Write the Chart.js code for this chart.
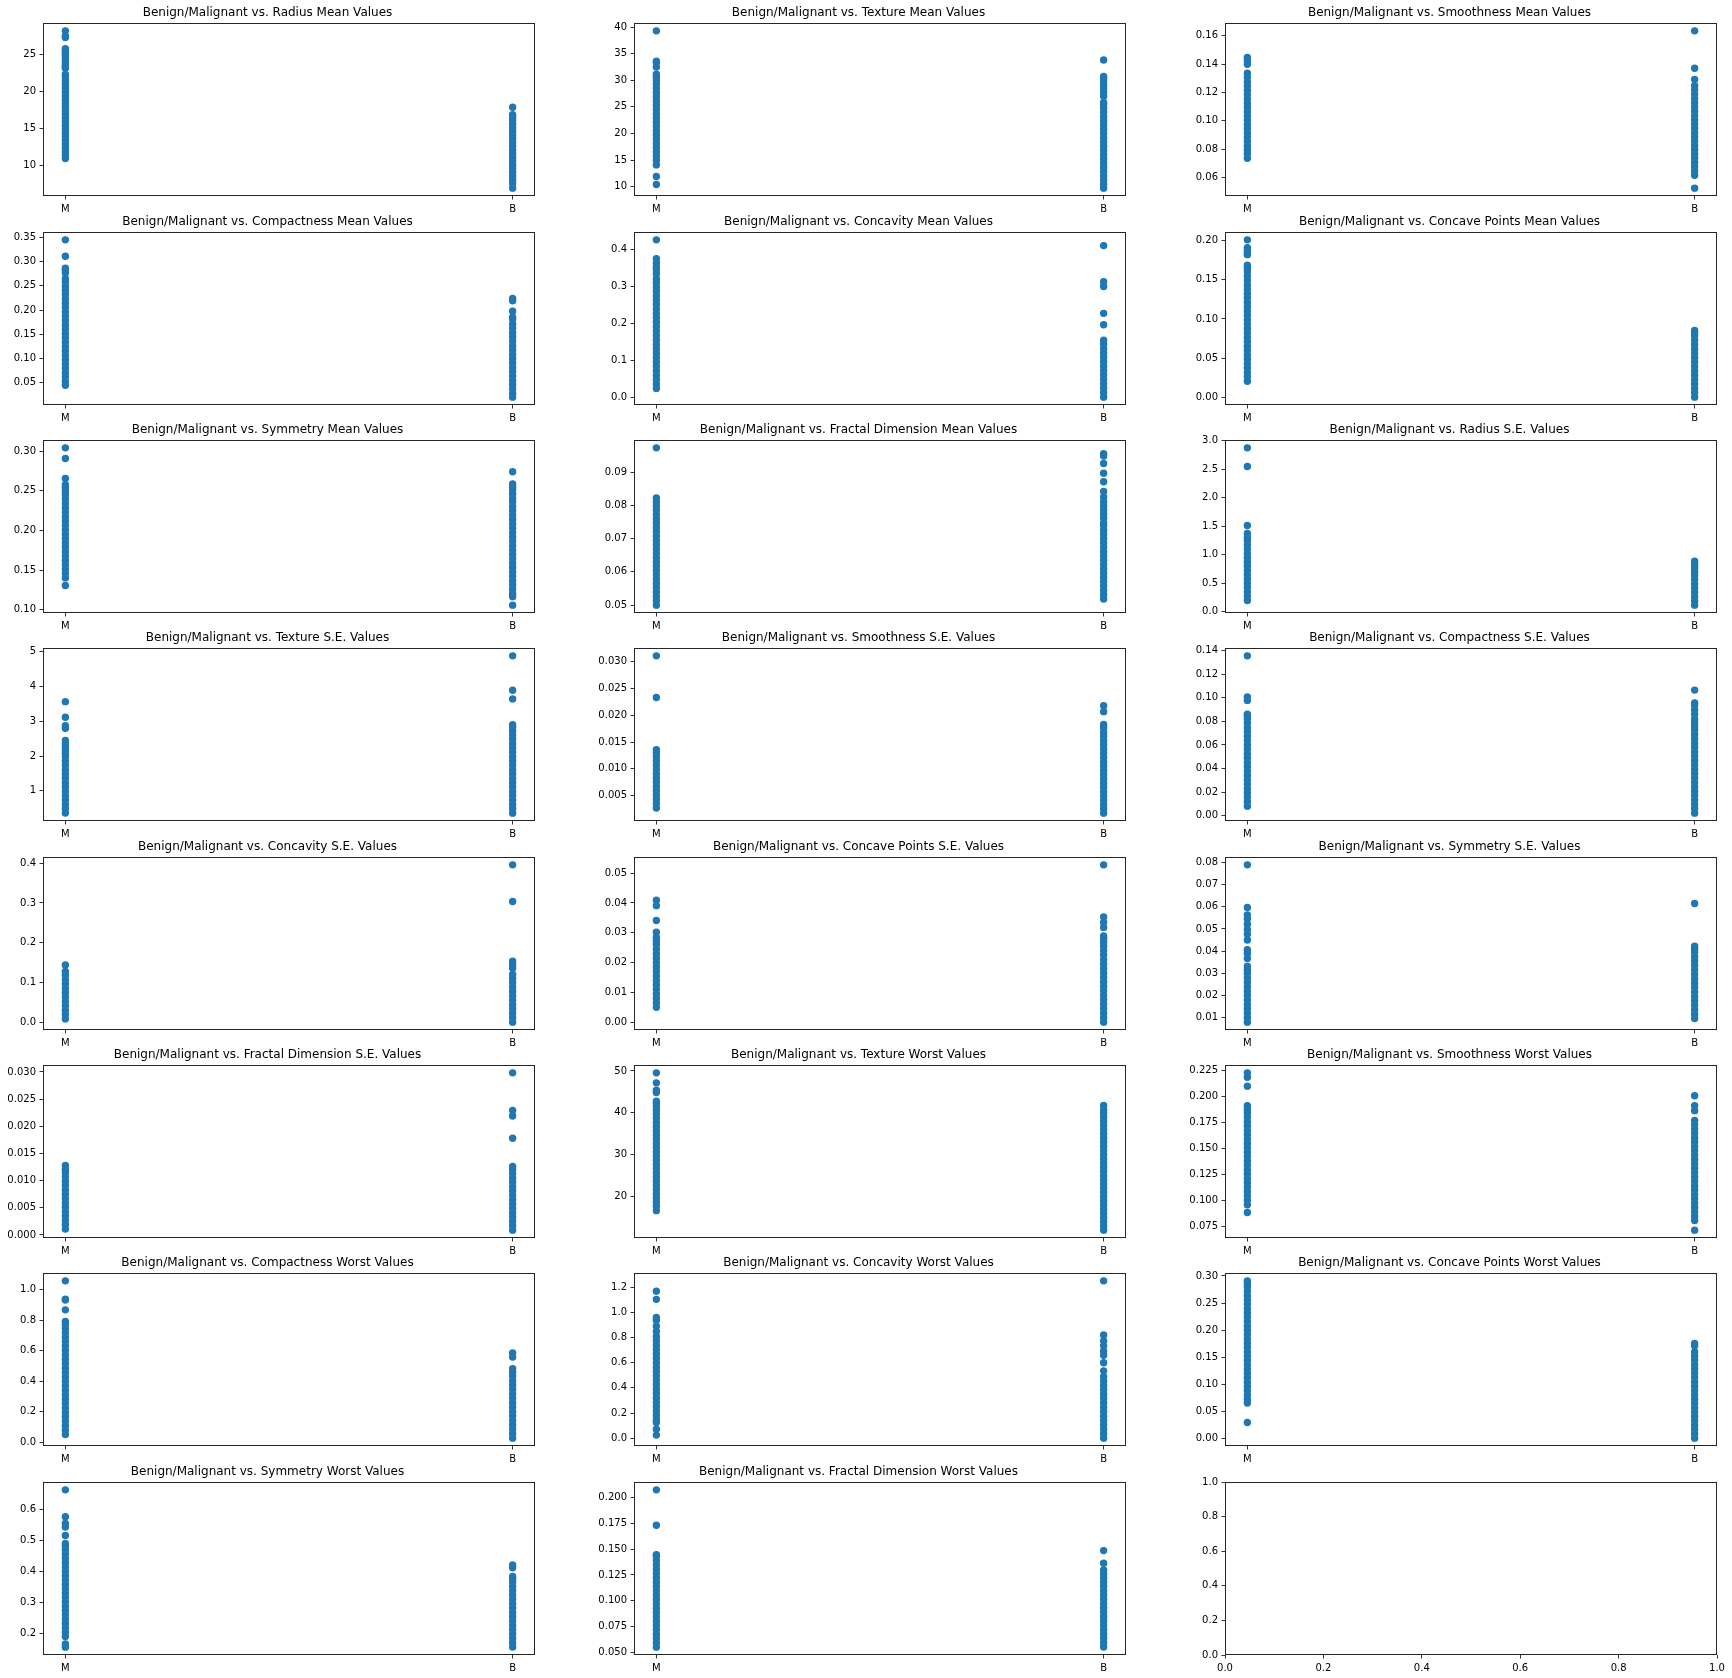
<!DOCTYPE html>
<html><head><meta charset="utf-8">
<script src="https://cdn.jsdelivr.net/npm/chart.js@4.4.1/dist/chart.umd.min.js"></script>
<style>
html,body{margin:0;padding:0;background:#fff;}
#fig{position:relative;width:1732px;height:1678px;overflow:hidden;background:#fff;}
#fig canvas{position:absolute;}
</style></head><body><div id="fig"></div>
<script>
// ---------------- data ----------------
const categories = ['M', 'B'];

const radiusMeanM = [10.95, 11.4, 11.9, 12.4, 12.9, 13.4, 13.9, 14.4, 14.9, 15.4, 15.9, 16.4, 16.9, 17.4, 17.9, 18.4, 18.9, 19.4, 19.9, 20.4, 20.9, 21.4, 21.9, 22.27, 23.09, 23.27, 23.51, 23.8, 24.25, 24.63, 25.0, 25.22, 25.5, 25.73, 27.22, 27.42, 28.11];
const radiusMeanB = [6.981, 7.6, 8.1, 8.6, 9.1, 9.6, 10.1, 10.6, 11.1, 11.6, 12.1, 12.6, 13.1, 13.6, 14.1, 14.6, 15.1, 15.6, 16.1, 16.5, 16.85, 17.85];
const radiusMeanTicks = ['10', '15', '20', '25'];

const textureMeanM = [10.38, 11.89, 14.08, 14.9, 15.7, 16.5, 17.3, 18.1, 18.9, 19.7, 20.5, 21.3, 22.1, 22.9, 23.7, 24.5, 25.3, 26.1, 26.9, 27.7, 28.5, 29.3, 30.0, 30.62, 31.12, 32.47, 33.3, 33.56, 39.28];
const textureMeanB = [9.71, 10.4, 11.2, 12.0, 12.8, 13.6, 14.4, 15.2, 16.0, 16.8, 17.6, 18.4, 19.2, 20.0, 20.8, 21.6, 22.4, 23.2, 24.0, 24.8, 25.5, 25.84, 26.99, 27.7, 28.4, 29.1, 29.8, 30.36, 30.72, 33.81];
const textureMeanTicks = ['10', '15', '20', '25', '30', '35', '40'];

const smoothnessMeanM = [0.0737, 0.0768, 0.0795, 0.0825, 0.0855, 0.0885, 0.0915, 0.0945, 0.0975, 0.1005, 0.1035, 0.1065, 0.1095, 0.1125, 0.1155, 0.1185, 0.1215, 0.1245, 0.1275, 0.1305, 0.1335, 0.1398, 0.1425, 0.1447];
const smoothnessMeanB = [0.05263, 0.0617, 0.0647, 0.0677, 0.0707, 0.0737, 0.0767, 0.0797, 0.0827, 0.0857, 0.0887, 0.0917, 0.0947, 0.0977, 0.1007, 0.1037, 0.1067, 0.1097, 0.1127, 0.1157, 0.1187, 0.1217, 0.1247, 0.1291, 0.1371, 0.1634];
const smoothnessMeanTicks = ['0.06', '0.08', '0.10', '0.12', '0.14', '0.16'];

const compactnessMeanM = [0.0438, 0.052, 0.061, 0.070, 0.079, 0.088, 0.097, 0.106, 0.115, 0.124, 0.133, 0.142, 0.151, 0.160, 0.169, 0.178, 0.187, 0.196, 0.205, 0.214, 0.223, 0.232, 0.241, 0.249, 0.258, 0.265, 0.2768, 0.2832, 0.2867, 0.3114, 0.3454];
const compactnessMeanB = [0.01938, 0.027, 0.036, 0.045, 0.054, 0.063, 0.072, 0.081, 0.090, 0.099, 0.108, 0.117, 0.126, 0.135, 0.144, 0.153, 0.162, 0.1705, 0.1807, 0.1853, 0.1974, 0.2190, 0.2239];
const compactnessMeanTicks = ['0.05', '0.10', '0.15', '0.20', '0.25', '0.30', '0.35'];

const concavityMeanM = [0.0237, 0.035, 0.047, 0.059, 0.071, 0.083, 0.095, 0.107, 0.119, 0.131, 0.143, 0.155, 0.167, 0.179, 0.191, 0.203, 0.215, 0.227, 0.239, 0.251, 0.263, 0.275, 0.287, 0.298, 0.31, 0.3201, 0.3339, 0.3454, 0.3523, 0.3635, 0.3754, 0.4264];
const concavityMeanB = [0, 0.012, 0.024, 0.036, 0.048, 0.060, 0.072, 0.084, 0.096, 0.108, 0.12, 0.1305, 0.1434, 0.1545, 0.1963, 0.2271, 0.2999, 0.3130, 0.4108];
const concavityMeanTicks = ['0.0', '0.1', '0.2', '0.3', '0.4'];

const concavePointsMeanM = [0.02031, 0.026, 0.0316, 0.0372, 0.0428, 0.0484, 0.054, 0.0596, 0.0652, 0.0708, 0.0764, 0.082, 0.0876, 0.0932, 0.0988, 0.1044, 0.11, 0.1156, 0.1212, 0.1268, 0.1324, 0.138, 0.1436, 0.1492, 0.1548, 0.1604, 0.1645, 0.1689, 0.1823, 0.1845, 0.1878, 0.1913, 0.2012];
const concavePointsMeanB = [0, 0.0056, 0.0112, 0.0168, 0.0224, 0.028, 0.0336, 0.0392, 0.0448, 0.0504, 0.056, 0.0616, 0.0672, 0.0728, 0.0784, 0.0822, 0.0854];
const concavePointsMeanTicks = ['0.00', '0.05', '0.10', '0.15', '0.20'];

const symmetryMeanM = [0.1308, 0.1403, 0.1458, 0.1513, 0.1568, 0.1623, 0.1678, 0.1733, 0.1788, 0.1843, 0.1898, 0.1953, 0.2008, 0.2063, 0.2118, 0.2173, 0.2228, 0.2283, 0.2338, 0.2393, 0.2448, 0.2495, 0.2539, 0.2575, 0.2655, 0.2906, 0.304];
const symmetryMeanB = [0.106, 0.1167, 0.1203, 0.1258, 0.1313, 0.1368, 0.1423, 0.1478, 0.1533, 0.1588, 0.1643, 0.1698, 0.1753, 0.1808, 0.1863, 0.1918, 0.1973, 0.2028, 0.2083, 0.2138, 0.2193, 0.2248, 0.2303, 0.2358, 0.2403, 0.2459, 0.2512, 0.2548, 0.2587, 0.274];
const symmetryMeanTicks = ['0.10', '0.15', '0.20', '0.25', '0.30'];

const fractalDimensionMeanM = [0.04996, 0.0513, 0.0526, 0.0539, 0.0552, 0.0565, 0.0578, 0.0591, 0.0604, 0.0617, 0.063, 0.0643, 0.0656, 0.0669, 0.0682, 0.0695, 0.0708, 0.0721, 0.0734, 0.0747, 0.076, 0.0773, 0.0786, 0.0799, 0.081, 0.0823, 0.09744];
const fractalDimensionMeanB = [0.0518, 0.0531, 0.0544, 0.0557, 0.057, 0.0583, 0.0596, 0.0609, 0.0622, 0.0635, 0.0648, 0.0661, 0.0674, 0.0687, 0.07, 0.0713, 0.0726, 0.0739, 0.0748, 0.0762, 0.0774, 0.0786, 0.0798, 0.0812, 0.0826, 0.0843, 0.0872, 0.0898, 0.0927, 0.095, 0.0957];
const fractalDimensionMeanTicks = ['0.05', '0.06', '0.07', '0.08', '0.09'];

const radiusSEM = [0.1938, 0.27, 0.345, 0.42, 0.495, 0.57, 0.645, 0.72, 0.795, 0.87, 0.945, 1.02, 1.095, 1.17, 1.245, 1.3, 1.37, 1.509, 2.547, 2.873];
const radiusSEB = [0.1115, 0.185, 0.26, 0.335, 0.41, 0.485, 0.56, 0.635, 0.7, 0.757, 0.8, 0.8529, 0.8811];
const radiusSETicks = ['0.0', '0.5', '1.0', '1.5', '2.0', '2.5', '3.0'];

const textureSEM = [0.3621, 0.487, 0.612, 0.737, 0.862, 0.987, 1.112, 1.237, 1.362, 1.487, 1.612, 1.737, 1.862, 1.987, 2.08, 2.18, 2.26, 2.35, 2.454, 2.799, 2.878, 3.12, 3.568];
const textureSEB = [0.3602, 0.485, 0.61, 0.735, 0.86, 0.985, 1.11, 1.235, 1.36, 1.485, 1.61, 1.735, 1.86, 1.985, 2.11, 2.235, 2.36, 2.485, 2.61, 2.72, 2.83, 2.904, 3.647, 3.896, 4.885];
const textureSETicks = ['1', '2', '3', '4', '5'];

const smoothnessSEM = [0.002667, 0.0035, 0.0043, 0.0051, 0.0059, 0.0067, 0.0075, 0.0083, 0.0091, 0.0099, 0.0107, 0.0115, 0.0123, 0.013, 0.0136, 0.02333, 0.03113];
const smoothnessSEB = [0.001713, 0.0025, 0.0033, 0.0041, 0.0049, 0.0057, 0.0065, 0.0073, 0.0081, 0.0089, 0.0097, 0.0105, 0.0113, 0.0121, 0.0129, 0.0137, 0.0145, 0.0153, 0.0161, 0.0168, 0.0177, 0.0183, 0.0207, 0.0218];
const smoothnessSETicks = ['0.005', '0.010', '0.015', '0.020', '0.025', '0.030'];

const compactnessSEM = [0.00816, 0.0119, 0.0156, 0.0193, 0.023, 0.0267, 0.0304, 0.0341, 0.0378, 0.0415, 0.0452, 0.0489, 0.0526, 0.0563, 0.06, 0.0637, 0.0674, 0.0711, 0.0745, 0.0786, 0.082, 0.0847, 0.0861, 0.0977, 0.1006, 0.1354];
const compactnessSEB = [0.002252, 0.006, 0.0097, 0.0134, 0.0171, 0.0208, 0.0245, 0.0282, 0.0319, 0.0356, 0.0393, 0.043, 0.0467, 0.0504, 0.0541, 0.0578, 0.0615, 0.0652, 0.0689, 0.0726, 0.0757, 0.0787, 0.0818, 0.0859, 0.0896, 0.0935, 0.0956, 0.1064];
const compactnessSETicks = ['0.00', '0.02', '0.04', '0.06', '0.08', '0.10', '0.12', '0.14'];

const concavitySEM = [0.00813, 0.019, 0.03, 0.041, 0.052, 0.063, 0.074, 0.085, 0.096, 0.107, 0.118, 0.1278, 0.1438];
const concavitySEB = [0, 0.011, 0.022, 0.033, 0.044, 0.055, 0.066, 0.077, 0.088, 0.099, 0.11, 0.12, 0.1354, 0.1438, 0.1535, 0.3038, 0.396];
const concavitySETicks = ['0.0', '0.1', '0.2', '0.3', '0.4'];

const concavePointsSEM = [0.005, 0.0065, 0.008, 0.0095, 0.011, 0.0125, 0.014, 0.0155, 0.017, 0.0185, 0.02, 0.0215, 0.023, 0.0245, 0.026, 0.0272, 0.0284, 0.0302, 0.0341, 0.0391, 0.0409];
const concavePointsSEB = [0, 0.0015, 0.003, 0.0045, 0.006, 0.0075, 0.009, 0.0105, 0.012, 0.0135, 0.015, 0.0165, 0.018, 0.0195, 0.021, 0.0225, 0.024, 0.0255, 0.0268, 0.0281, 0.0289, 0.0318, 0.0335, 0.0353, 0.0528];
const concavePointsSETicks = ['0.00', '0.01', '0.02', '0.03', '0.04', '0.05'];

const symmetrySEM = [0.00788, 0.0099, 0.0119, 0.0139, 0.0159, 0.0179, 0.0199, 0.0219, 0.0239, 0.0259, 0.0279, 0.0299, 0.0315, 0.0332, 0.0367, 0.0389, 0.0406, 0.0450, 0.0476, 0.0498, 0.0522, 0.0545, 0.0563, 0.0597, 0.0790];
const symmetrySEB = [0.009539, 0.0115, 0.0135, 0.0155, 0.0175, 0.0195, 0.0215, 0.0235, 0.0255, 0.0275, 0.0295, 0.0315, 0.0335, 0.0355, 0.0375, 0.0395, 0.041, 0.0422, 0.0615];
const symmetrySETicks = ['0.01', '0.02', '0.03', '0.04', '0.05', '0.06', '0.07', '0.08'];

const fractalDimensionSEM = [0.001087, 0.0019, 0.0027, 0.0035, 0.0043, 0.0051, 0.0059, 0.0067, 0.0075, 0.0083, 0.0091, 0.0099, 0.0107, 0.0115, 0.0121, 0.0128];
const fractalDimensionSEB = [0.000895, 0.0017, 0.0025, 0.0033, 0.0041, 0.0049, 0.0057, 0.0065, 0.0073, 0.0081, 0.0089, 0.0097, 0.0105, 0.0113, 0.012, 0.0126, 0.0178, 0.0219, 0.0229, 0.02984];
const fractalDimensionSETicks = ['0.000', '0.005', '0.010', '0.015', '0.020', '0.025', '0.030'];

const textureWorstM = [16.67, 17.7, 18.7, 19.7, 20.7, 21.7, 22.7, 23.7, 24.7, 25.7, 26.7, 27.7, 28.7, 29.7, 30.7, 31.7, 32.7, 33.7, 34.7, 35.7, 36.7, 37.7, 38.7, 39.7, 40.6, 41.5, 42.3, 42.8, 44.87, 45.41, 47.16, 49.54];
const textureWorstB = [12.02, 13.0, 14.0, 15.0, 16.0, 17.0, 18.0, 19.0, 20.0, 21.0, 22.0, 23.0, 24.0, 25.0, 26.0, 27.0, 28.0, 29.0, 30.0, 31.0, 32.0, 33.0, 34.0, 35.0, 36.0, 37.0, 38.0, 39.0, 39.9, 40.68, 41.78];
const textureWorstTicks = ['20', '30', '40', '50'];

const smoothnessWorstM = [0.08822, 0.0956, 0.1, 0.1042, 0.1084, 0.1126, 0.1168, 0.121, 0.1252, 0.1294, 0.1336, 0.1378, 0.142, 0.1462, 0.1504, 0.1546, 0.1588, 0.163, 0.1672, 0.1714, 0.1756, 0.1798, 0.184, 0.1873, 0.1909, 0.2098, 0.2184, 0.2226];
const smoothnessWorstB = [0.07117, 0.0804, 0.0846, 0.0888, 0.093, 0.0972, 0.1014, 0.1056, 0.1098, 0.114, 0.1182, 0.1224, 0.1266, 0.1308, 0.135, 0.1392, 0.1434, 0.1476, 0.1518, 0.156, 0.1602, 0.1644, 0.1686, 0.1728, 0.1768, 0.1862, 0.1909, 0.2006];
const smoothnessWorstTicks = ['0.075', '0.100', '0.125', '0.150', '0.175', '0.200', '0.225'];

const compactnessWorstM = [0.05131, 0.08, 0.109, 0.138, 0.167, 0.196, 0.225, 0.254, 0.283, 0.312, 0.341, 0.37, 0.399, 0.428, 0.457, 0.486, 0.515, 0.544, 0.573, 0.602, 0.631, 0.66, 0.689, 0.718, 0.745, 0.772, 0.7917, 0.8681, 0.9327, 0.9379, 1.058];
const compactnessWorstB = [0.02729, 0.056, 0.085, 0.114, 0.143, 0.172, 0.201, 0.23, 0.259, 0.288, 0.317, 0.346, 0.375, 0.404, 0.433, 0.46, 0.4829, 0.5584, 0.5849];
const compactnessWorstTicks = ['0.0', '0.2', '0.4', '0.6', '0.8', '1.0'];

const concavityWorstM = [0.02398, 0.0716, 0.1245, 0.145, 0.18, 0.215, 0.25, 0.285, 0.32, 0.355, 0.39, 0.425, 0.46, 0.495, 0.53, 0.565, 0.6, 0.635, 0.67, 0.705, 0.74, 0.775, 0.81, 0.8488, 0.8902, 0.9387, 0.9608, 1.105, 1.17];
const concavityWorstB = [0, 0.035, 0.07, 0.105, 0.14, 0.175, 0.21, 0.245, 0.28, 0.315, 0.35, 0.385, 0.42, 0.455, 0.49, 0.5355, 0.6, 0.6599, 0.6922, 0.7345, 0.7727, 0.8216, 1.252];
const concavityWorstTicks = ['0.0', '0.2', '0.4', '0.6', '0.8', '1.0', '1.2'];

const concavePointsWorstM = [0.02899, 0.06499, 0.0716, 0.0796, 0.0876, 0.0956, 0.1036, 0.1116, 0.1196, 0.1276, 0.1356, 0.1436, 0.1516, 0.1596, 0.1676, 0.1756, 0.1836, 0.1916, 0.1996, 0.2076, 0.2156, 0.2236, 0.2316, 0.2396, 0.2476, 0.2556, 0.2636, 0.2716, 0.2796, 0.2867, 0.291];
const concavePointsWorstB = [0, 0.008, 0.016, 0.024, 0.032, 0.04, 0.048, 0.056, 0.064, 0.072, 0.08, 0.088, 0.096, 0.104, 0.112, 0.12, 0.128, 0.136, 0.144, 0.152, 0.1595, 0.1708, 0.175];
const concavePointsWorstTicks = ['0.00', '0.05', '0.10', '0.15', '0.20', '0.25', '0.30'];

const symmetryWorstM = [0.1565, 0.1664, 0.1906, 0.2046, 0.2186, 0.2326, 0.2466, 0.2606, 0.2746, 0.2886, 0.3026, 0.3166, 0.3306, 0.3446, 0.3586, 0.3726, 0.3866, 0.4006, 0.4146, 0.4286, 0.4426, 0.4566, 0.4706, 0.4821, 0.4908, 0.5166, 0.544, 0.5558, 0.5774, 0.6638];
const symmetryWorstB = [0.1566, 0.1706, 0.1846, 0.1986, 0.2126, 0.2266, 0.2406, 0.2546, 0.2686, 0.2826, 0.2966, 0.3106, 0.3246, 0.3386, 0.3526, 0.3666, 0.3783, 0.3849, 0.4128, 0.4218];
const symmetryWorstTicks = ['0.2', '0.3', '0.4', '0.5', '0.6'];

const fractalDimensionWorstM = [0.05504, 0.0592, 0.0634, 0.0676, 0.0718, 0.076, 0.0802, 0.0844, 0.0886, 0.0928, 0.097, 0.1012, 0.1054, 0.1096, 0.1138, 0.118, 0.1222, 0.1264, 0.1306, 0.1348, 0.139, 0.1431, 0.1446, 0.1732, 0.2075];
const fractalDimensionWorstB = [0.05521, 0.0594, 0.0636, 0.0678, 0.072, 0.0762, 0.0804, 0.0846, 0.0888, 0.093, 0.0972, 0.1014, 0.1056, 0.1098, 0.114, 0.1182, 0.1224, 0.1258, 0.1298, 0.1364, 0.1486];
const fractalDimensionWorstTicks = ['0.050', '0.075', '0.100', '0.125', '0.150', '0.175', '0.200'];

const emptyTicks = ['0.0', '0.2', '0.4', '0.6', '0.8', '1.0'];

const featureNames = ['Radius Mean', 'Texture Mean', 'Smoothness Mean', 'Compactness Mean', 'Concavity Mean', 'Concave Points Mean',
  'Symmetry Mean', 'Fractal Dimension Mean', 'Radius S.E.', 'Texture S.E.', 'Smoothness S.E.', 'Compactness S.E.',
  'Concavity S.E.', 'Concave Points S.E.', 'Symmetry S.E.', 'Fractal Dimension S.E.', 'Texture Worst', 'Smoothness Worst',
  'Compactness Worst', 'Concavity Worst', 'Concave Points Worst', 'Symmetry Worst', 'Fractal Dimension Worst'];

// table built from the arrays above
const panels = [
  [radiusMeanM, radiusMeanB, radiusMeanTicks],
  [textureMeanM, textureMeanB, textureMeanTicks],
  [smoothnessMeanM, smoothnessMeanB, smoothnessMeanTicks],
  [compactnessMeanM, compactnessMeanB, compactnessMeanTicks],
  [concavityMeanM, concavityMeanB, concavityMeanTicks],
  [concavePointsMeanM, concavePointsMeanB, concavePointsMeanTicks],
  [symmetryMeanM, symmetryMeanB, symmetryMeanTicks],
  [fractalDimensionMeanM, fractalDimensionMeanB, fractalDimensionMeanTicks],
  [radiusSEM, radiusSEB, radiusSETicks],
  [textureSEM, textureSEB, textureSETicks],
  [smoothnessSEM, smoothnessSEB, smoothnessSETicks],
  [compactnessSEM, compactnessSEB, compactnessSETicks],
  [concavitySEM, concavitySEB, concavitySETicks],
  [concavePointsSEM, concavePointsSEB, concavePointsSETicks],
  [symmetrySEM, symmetrySEB, symmetrySETicks],
  [fractalDimensionSEM, fractalDimensionSEB, fractalDimensionSETicks],
  [textureWorstM, textureWorstB, textureWorstTicks],
  [smoothnessWorstM, smoothnessWorstB, smoothnessWorstTicks],
  [compactnessWorstM, compactnessWorstB, compactnessWorstTicks],
  [concavityWorstM, concavityWorstB, concavityWorstTicks],
  [concavePointsWorstM, concavePointsWorstB, concavePointsWorstTicks],
  [symmetryWorstM, symmetryWorstB, symmetryWorstTicks],
  [fractalDimensionWorstM, fractalDimensionWorstB, fractalDimensionWorstTicks]
];

// ---------------- layout ----------------
Chart.defaults.font.family = "'DejaVu Sans', sans-serif";
Chart.defaults.color = '#000';
const COL_LEFT = [43, 634, 1225];
const BOX_W = 492, BOX_H = 173, ROW0 = 23.3, ROW_STEP = 208.33;
const PL = 43, PT = 24, PR = 16, PB = 24;
const BLUE = '#1f77b4';

const framePlugin = {
  id: 'frame',
  afterDatasetsDraw(chart) {
    const a = chart.chartArea, ctx = chart.ctx;
    const l = Math.round(a.left) + 0.5, t = Math.round(a.top) + 0.5;
    const r = Math.round(a.right) - 0.5, b = Math.round(a.bottom) - 0.5;
    ctx.save();
    ctx.strokeStyle = '#000';
    ctx.lineWidth = 1;
    ctx.globalAlpha = 0.85;
    ctx.strokeRect(l, t, r - l, b - t);
    ctx.restore();
  }
};

const fig = document.getElementById('fig');

function tickGrid() {
  return { display: true, drawOnChartArea: false, drawTicks: true, tickLength: 3.5, tickColor: '#000', tickWidth: 0.8 };
}

function makeChart(idx) {
  const r = Math.floor(idx / 3), c = idx % 3;
  const boxTop = Math.round(ROW0 + r * ROW_STEP);
  const cv = document.createElement('canvas');
  const w = BOX_W + PL + PR, h = BOX_H + PT + PB;
  cv.width = w; cv.height = h;
  cv.style.width = w + 'px'; cv.style.height = h + 'px';
  cv.style.left = (COL_LEFT[c] - PL) + 'px';
  cv.style.top = (boxTop - PT) + 'px';
  fig.appendChild(cv);

  const isEmpty = idx >= panels.length;
  let datasets = [], xTicks, xMin, xMax, yTicks, yMin, yMax, title = '';
  if (!isEmpty) {
    const [mVals, bVals, ticks] = panels[idx];
    const all = mVals.concat(bVals);
    const lo = Math.min(...all), hi = Math.max(...all), rng = hi - lo;
    yMin = lo - 0.05 * rng; yMax = hi + 0.05 * rng;
    yTicks = ticks;
    xTicks = categories; xMin = -0.05; xMax = 1.05;
    title = 'Benign/Malignant vs. ' + featureNames[idx] + ' Values';
    datasets = [mVals, bVals].map((vals, k) => ({
      data: vals.map(v => ({ x: k, y: v })),
      backgroundColor: BLUE, borderColor: BLUE,
      pointRadius: 3, pointBorderWidth: 1.4, pointHoverRadius: 3, showLine: false
    }));
  } else {
    yTicks = emptyTicks; xTicks = emptyTicks;
    yMin = 0; yMax = 1; xMin = 0; xMax = 1;
  }
  const xTickValues = isEmpty ? xTicks.map(t => parseFloat(t)) : xTicks.map((t, i) => i);

  new Chart(cv, {
    type: 'scatter',
    data: { datasets },
    plugins: [framePlugin],
    options: {
      responsive: false, animation: false, events: [],
      layout: { padding: { left: 0, right: PR, top: isEmpty ? PT : 0, bottom: 0 } },
      plugins: {
        legend: { display: false }, tooltip: { enabled: false },
        title: {
          display: !isEmpty, text: title, color: '#000',
          font: { size: 12, weight: 'normal' },
          padding: { top: 6.6, bottom: PT - 14.4 - 6.6 }
        }
      },
      scales: {
        x: {
          type: 'linear', min: xMin, max: xMax,
          afterBuildTicks: s => { s.ticks = xTickValues.map(v => ({ value: v })); },
          ticks: { callback: (v, i) => xTicks[i], color: '#000', font: { size: 10 }, padding: 3.5, autoSkip: false, maxRotation: 0 },
          grid: tickGrid(),
          border: { display: false },
          afterFit: s => { s.height = PB; }
        },
        y: {
          type: 'linear', min: yMin, max: yMax,
          afterBuildTicks: s => { s.ticks = yTicks.map(t => ({ value: parseFloat(t) })); },
          ticks: { callback: (v, i) => yTicks[i], color: '#000', font: { size: 10 }, padding: 3.5, autoSkip: false },
          grid: tickGrid(),
          border: { display: false },
          afterFit: s => { s.width = PL; }
        }
      }
    }
  });
}

for (let i = 0; i < 24; i++) makeChart(i);
</script>
</body></html>
